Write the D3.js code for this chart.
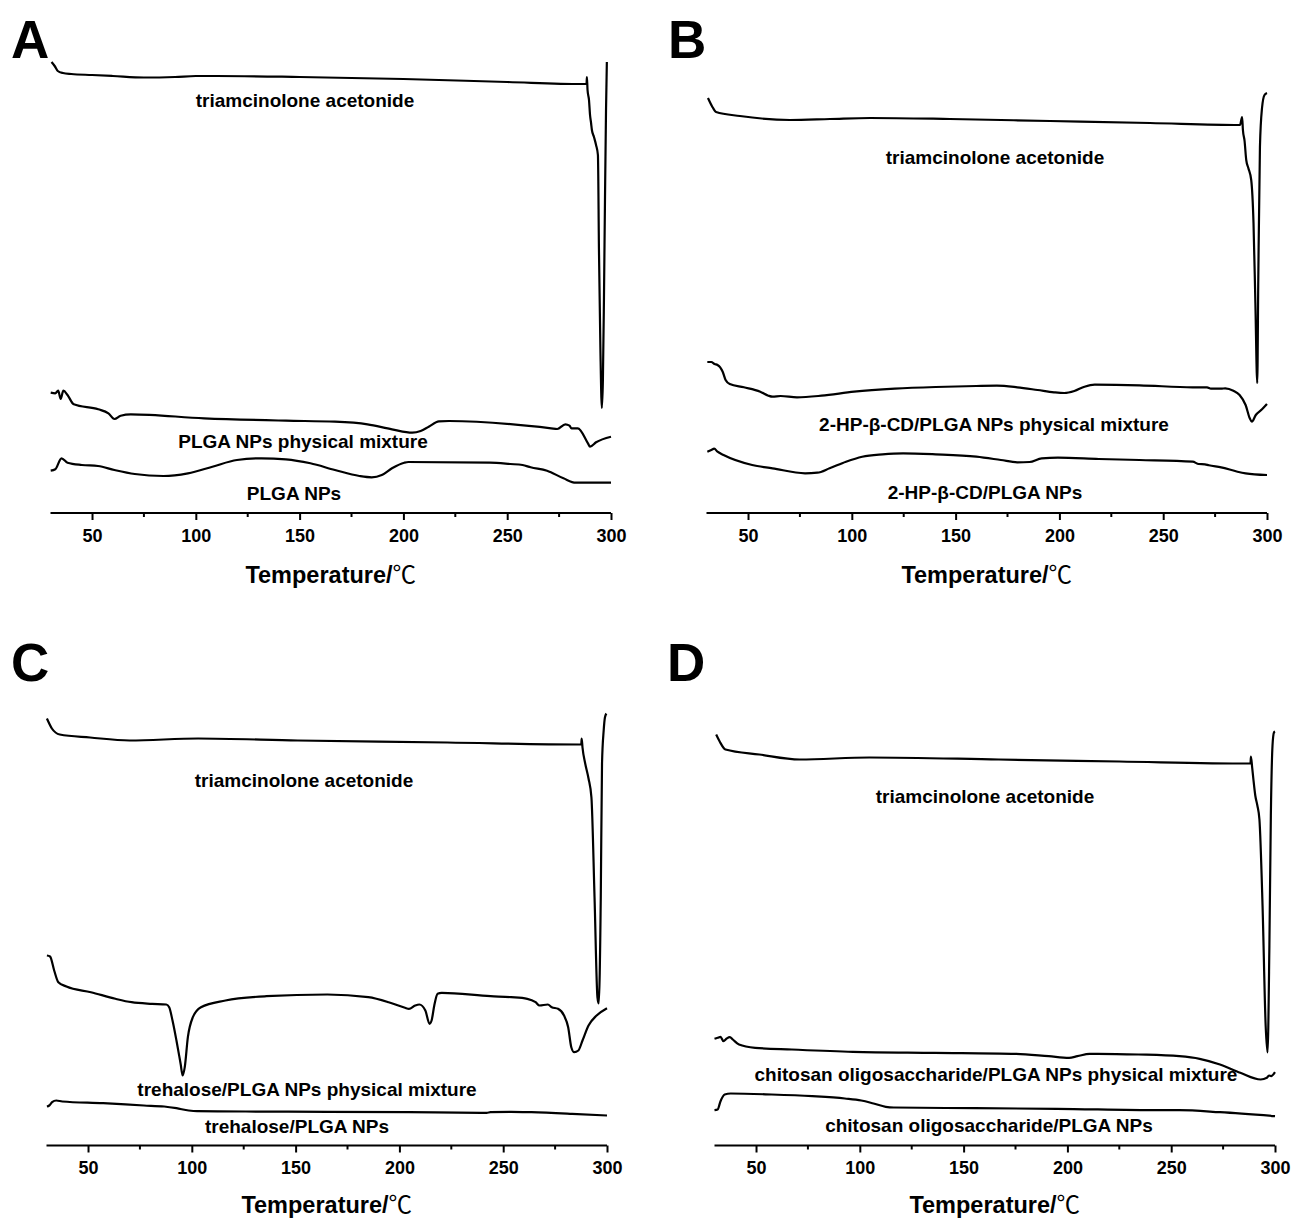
<!DOCTYPE html>
<html><head><meta charset="utf-8">
<script src="https://cdn.jsdelivr.net/npm/d3@7"></script>
<style>body{margin:0;background:#fff}svg{display:block}text{font-family:"Liberation Sans",Arial,sans-serif;font-weight:bold;fill:#000}</style>
</head><body>
<svg id="chart" width="1294" height="1218"></svg>
<script>
// ---- data: [temperature °C, relative heat flow (arb. units)] ----
const majorTicks = [50, 100, 150, 200, 250, 300];
const minorTicks = [75, 125, 175, 225, 275];
const panelLetters = ["A", "B", "C", "D"];
const axisTitle = "Temperature/";
const axisUnit = "℃";

const taA = [[30.5,451],[32,447],[33.5,442],[36,440],[40,439],[50,438],[60,437],[75,435.5],[90,436],[100,437],[110,437],[150,436],[200,434],[250,431],[286,429],[288.2,429],[288.4,436],[288.7,423],[289.4,413],[289.9,398],[290.4,390],[290.8,383],[291.8,376],[292.8,368],[293.7,358],[294.2,263],[294.9,163],[295.6,105],[296.1,133],[296.6,213],[297.1,313],[297.6,403],[298,451]];
const mixA = [[30.1,120.3],[32.3,119.7],[33.7,122.3],[34.9,114],[36.2,122.3],[38.2,118],[41.2,108.7],[53,103.7],[57.9,99.7],[60.8,94],[63.8,97.3],[68.7,98.7],[104,94.7],[143.4,92.3],[167,91.3],[182.7,88.7],[194.5,83.7],[204.3,80.3],[208.3,82],[212.2,86.3],[217.1,91.7],[222,92],[271.2,84.7],[274.1,84],[278,88.7],[280,87.3],[281,84.7],[284,84.7],[288.9,69.7],[289.9,66.3],[292.8,70.7],[300,76.3]];
const npA = [[30.1,42.3],[32.3,43.7],[35.3,54.7],[38.2,50.3],[45.1,48],[52.9,47],[60.8,43],[70.6,39],[84.4,37],[96.2,39.7],[108,46.3],[119.8,53],[131.6,54.7],[143.4,53.7],[155.2,49.7],[167,43],[178.8,37],[184.7,35.7],[189.6,38],[194.5,44.7],[200.4,50.3],[202.4,51],[241.7,50.3],[251.5,49],[257.4,48],[261.3,45.7],[269.2,42.3],[277.1,34.7],[283,30.3],[300,30.3]];

const taB = [[30.7,415],[32.6,407],[34.6,401],[46.1,397],[70.2,393],[89.5,394],[108.8,395],[147.3,394],[195.5,392],[243.6,390],[287,388],[288,396],[288.4,383],[289.2,372],[290,353],[291,345],[292.4,333],[293.5,290],[294.4,210],[295.3,130],[295.8,233],[296.6,366],[297.6,405],[298.8,418],[300,420]];
const mixB = [[30.4,151],[32.3,151],[33.9,149],[35.3,148],[36.6,145.7],[37.8,141.3],[39.2,133],[41.2,129],[48,125.7],[55.9,121.3],[59.8,117.3],[61.8,116.3],[65.7,117],[73.6,115.7],[85.4,117.3],[101.1,121.3],[120.7,124.3],[140.4,126],[160,127],[169.9,127.3],[179.7,125.7],[189.5,123],[197.4,120.7],[202.3,120],[207.2,122],[212.1,126.3],[217,128.3],[238.6,127.7],[264.2,125.7],[271.1,125.7],[273,124.3],[277.9,124.3],[279.9,124.7],[283.8,122.3],[286.8,118],[289.7,108],[291.7,94.7],[292.7,91.3],[294.6,98],[297.6,103.7],[300,109]];
const npB = [[30.4,61.3],[32.3,63],[33.7,64.3],[35.3,61.3],[38.2,58],[52,48],[61.8,44.7],[77.5,39.7],[83.4,40.3],[89.3,44.7],[97.2,51.3],[105,56.3],[114.8,58.7],[124.7,59.7],[140.4,58.7],[160,56.3],[171.8,53],[179.7,50.7],[185.6,51],[191.5,54.7],[199.3,55.3],[219,54],[238.6,53],[264.2,51.3],[267.1,49],[270.1,48.7],[272,47.7],[277.9,45.7],[285.8,41.3],[289.7,39.7],[300,38]];

const taC = [[30.2,427],[32.6,417],[36.4,411],[51,408],[70,405],[103,407],[151,405],[223,403],[286.5,401],[287.6,401],[287.8,407],[288.2,398],[289.5,382],[291.1,367],[292.5,348],[294,248],[295.4,148],[296,142],[297,248],[297.6,382],[298.4,415],[299,428],[299.7,432]];
const mixC = [[30.2,190],[31.7,189],[33.7,175],[35.7,163.3],[39.6,159],[51.4,153.3],[63.2,146.7],[71,143.3],[80.9,141.7],[87.7,141],[89.1,138.3],[90.7,125],[92.6,105],[94.6,81.7],[95.6,70],[96.6,78.3],[98.1,108.3],[100.5,128.3],[104.4,138.3],[116.2,145],[135.9,149.3],[165.3,151],[185,148.3],[194.8,143.3],[202.7,137.7],[204.6,136.7],[207.6,140],[209.6,141],[212.5,135],[214.5,121.7],[215.5,125],[216.8,140],[218.4,151.7],[220.4,152.7],[243.9,149.3],[253.8,148.3],[261.6,146.7],[265.6,143.3],[267.5,140],[271.5,141],[273.4,138.3],[276.4,136.7],[279.3,130],[281.3,118.3],[282.8,98.3],[284.2,93.3],[286.2,95],[288.2,105],[291.1,120],[295,130],[300,137.3]];
const npC = [[30.2,39],[31.3,40],[32.7,43.3],[34.7,45],[37.6,44],[57.3,42.3],[76.9,40],[86.7,39],[92.6,37.3],[98.5,35],[102.5,34.3],[126,34],[165.3,33.7],[204.6,33.3],[242,32.7],[243.9,33.3],[253.8,33.7],[263.6,33.3],[283.2,31.7],[300,30]];

const taD = [[30.8,411],[32.5,404],[35.3,396],[51.6,391],[71,386],[104.6,388],[167,386],[225,384],[287.5,382],[288.2,382],[288.4,389],[289,378],[289.6,366],[290.5,350],[291.5,340],[292.5,326],[294,240],[295.5,120],[296.4,93],[297.3,200],[298,330],[298.8,400],[299.5,413],[300,414]];
const mixD = [[30,106.7],[31.5,107.7],[32.9,108.7],[34.3,104.3],[35.9,107],[37.4,108.3],[38.8,106],[41.8,101],[49.6,97.7],[67.3,96],[96.7,93.7],[136,92.7],[175.3,91.7],[191,89.3],[200.8,87.7],[204.8,89.3],[210.7,91.7],[214.6,91.7],[234.2,91],[253.9,89.3],[263.7,86.7],[273.5,81],[283.3,72.7],[293.1,66],[296.1,67.7],[297.1,70],[298.1,69.3],[300,73.3]];
const npD = [[30,35.3],[31.5,36],[32.9,44.3],[34.9,51],[37.8,52],[57.5,51],[77.1,49.3],[92.8,47],[100.7,45],[106.6,42],[112.5,38.7],[116.4,38],[155.7,37.3],[194.9,36.7],[244,35.3],[253.9,35.3],[273.5,33.3],[300,29.3]];

const seriesA = [taA, mixA, npA];
const seriesB = [taB, mixB, npB];
const seriesC = [taC, mixC, npC];
const seriesD = [taD, mixD, npD];

const labelsA = ["triamcinolone acetonide", "PLGA NPs physical mixture", "PLGA NPs"];
const labelsB = ["triamcinolone acetonide", "2-HP-β-CD/PLGA NPs physical mixture", "2-HP-β-CD/PLGA NPs"];
const labelsC = ["triamcinolone acetonide", "trehalose/PLGA NPs physical mixture", "trehalose/PLGA NPs"];
const labelsD = ["triamcinolone acetonide", "chitosan oligosaccharide/PLGA NPs physical mixture", "chitosan oligosaccharide/PLGA NPs"];

// ---- layout ----
const layout = [
  {x0: 50.5, x1: 611, axisY: 513, titleDy: 70, letterX: 11, letterY: 58, labelPos: [[305,107],[303,448],[294,500]]},
  {x0: 706.5, x1: 1267, axisY: 513, titleDy: 70, letterX: 668, letterY: 58, labelPos: [[995,164],[994,431],[985,499]]},
  {x0: 46.5, x1: 607, axisY: 1145.5, titleDy: 67, letterX: 11, letterY: 681, labelPos: [[304,787],[307,1096],[297,1133]]},
  {x0: 714.5, x1: 1275, axisY: 1145.5, titleDy: 67, letterX: 667, letterY: 681, labelPos: [[985,803],[996,1081],[989,1132]]}
];
const allSeries = [seriesA, seriesB, seriesC, seriesD];
const allLabels = [labelsA, labelsB, labelsC, labelsD];

const svg = d3.select("#chart");

layout.forEach((L, i) => {
  const g = svg.append("g");
  const x = d3.scaleLinear().domain([30, 300]).range([L.x0, L.x1]);
  const y = d3.scaleLinear().domain([0, 500]).range([L.axisY, L.axisY - 500]);

  // axis
  const ax = g.append("g").attr("transform", `translate(0,${L.axisY})`)
    .call(d3.axisBottom(x).tickValues(majorTicks).tickSize(7).tickPadding(9).tickFormat(d3.format("d")));
  ax.select(".domain").attr("stroke", "#000").attr("stroke-width", 2).attr("d", `M${L.x0},0H${L.x1}`);
  ax.selectAll(".tick line").attr("stroke", "#000").attr("stroke-width", 2);
  ax.selectAll(".tick text").attr("font-size", 18).attr("font-family", '"Liberation Sans", Arial, sans-serif')
    .attr("font-weight", "bold").attr("fill", "#000");
  g.append("g").selectAll("line").data(minorTicks).join("line")
    .attr("x1", d => x(d)).attr("x2", d => x(d))
    .attr("y1", L.axisY).attr("y2", L.axisY + 4)
    .attr("stroke", "#000").attr("stroke-width", 2);

  // title
  const t = g.append("text").attr("x", (L.x0 + L.x1) / 2).attr("y", L.axisY + L.titleDy)
    .attr("text-anchor", "middle").attr("font-size", 23.5);
  t.append("tspan").text(axisTitle);
  t.append("tspan").text(axisUnit).attr("font-family", '"Noto Sans CJK SC", sans-serif').attr("font-weight", "normal");

  // letter
  g.append("text").attr("x", L.letterX).attr("y", L.letterY).attr("font-size", 53).text(panelLetters[i]);

  // curves
  const line = d3.line().x(d => x(d[0])).y(d => y(d[1])).curve(d3.curveMonotoneX);
  allSeries[i].forEach(s => {
    g.append("path").datum(s).attr("d", line).attr("fill", "none")
      .attr("stroke", "#000").attr("stroke-width", 2.2).attr("stroke-linejoin", "round");
  });

  // curve labels
  allLabels[i].forEach((txt, k) => {
    g.append("text").attr("x", L.labelPos[k][0]).attr("y", L.labelPos[k][1])
      .attr("text-anchor", "middle").attr("font-size", 19).text(txt);
  });
});
</script>
</body></html>
